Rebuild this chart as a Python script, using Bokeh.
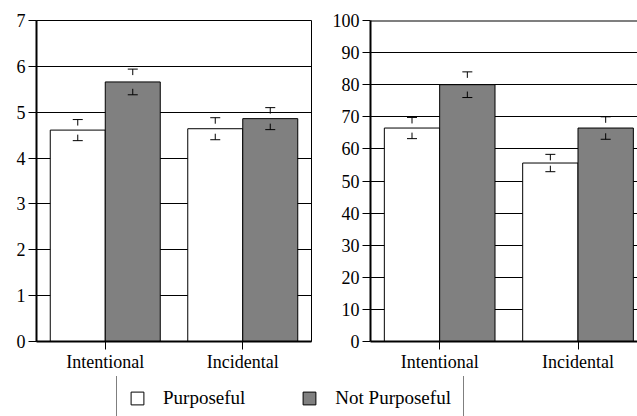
import numpy as np
from bokeh.plotting import figure
from bokeh.layouts import row, column
from bokeh.models import Range1d, FixedTicker, ColumnDataSource, Legend, LegendItem, Span
from bokeh.embed import file_html
from bokeh.resources import INLINE

# ---------------- data ----------------
categories = ["Intentional", "Incidental"]
series = ["Purposeful", "Not Purposeful"]

left_purposeful = [4.61, 4.64]
left_not_purposeful = [5.66, 4.86]
left_purposeful_err = [0.23, 0.24]
left_not_purposeful_err = [0.28, 0.24]
left_ticks = [0, 1, 2, 3, 4, 5, 6, 7]

right_purposeful = [66.5, 55.6]
right_not_purposeful = [80.0, 66.5]
right_purposeful_err = [3.3, 2.7]
right_not_purposeful_err = [4.0, 3.5]
right_ticks = [0, 10, 20, 30, 40, 50, 60, 70, 80, 90, 100]

fill_colors = ["#ffffff", "#808080"]
FONT = "Liberation Serif"


def make_panel(vals, errs, yticks, x_end, frame_w, frame_h,
               b_left, b_right, b_top, b_bottom, outline, top_span):
    p = figure(width=b_left + frame_w + b_right, height=b_top + frame_h + b_bottom,
               x_range=Range1d(0, x_end), y_range=Range1d(yticks[0], yticks[-1]),
               output_backend="svg", toolbar_location=None,
               min_border_left=b_left, min_border_right=b_right,
               min_border_top=b_top, min_border_bottom=b_bottom)
    xc = np.arange(len(categories)) + 0.5
    offsets = [-0.2, 0.2]
    for k in range(len(series)):
        xs = xc + offsets[k]
        v = np.array(vals[k])
        e = np.array(errs[k])
        src = ColumnDataSource(dict(x=xs, top=v, hi=v + e, lo=v - e))
        p.vbar(x="x", top="top", bottom=0, width=0.4, source=src,
               fill_color=fill_colors[k], line_color="black", line_width=1)
        p.ray(x="x", y="hi", length=6, length_units="screen", angle=-np.pi / 2,
              source=src, line_color="black", line_width=1)
        p.ray(x="x", y="lo", length=6, length_units="screen", angle=np.pi / 2,
              source=src, line_color="black", line_width=1)
        p.scatter(x="x", y="hi", marker="dash", size=10, source=src,
                  line_color="black", line_width=1)
        p.scatter(x="x", y="lo", marker="dash", size=10, source=src,
                  line_color="black", line_width=1)

    p.xaxis.ticker = FixedTicker(ticks=list(xc))
    p.xaxis.major_label_overrides = {float(x): c for x, c in zip(xc, categories)}
    p.yaxis.ticker = FixedTicker(ticks=yticks)
    p.axis.major_tick_out = 8
    p.axis.major_tick_in = 0
    p.axis.minor_tick_line_color = None
    p.axis.major_tick_line_color = "black"
    p.axis.axis_line_color = "black"
    p.axis.axis_line_width = 2
    p.axis.major_label_text_font = FONT
    p.axis.major_label_text_font_size = "18px"
    p.axis.major_label_text_color = "black"
    p.xaxis.major_label_standoff = 2
    p.yaxis.major_label_standoff = 3
    p.xgrid.visible = False
    p.ygrid.grid_line_color = "black"
    p.ygrid.grid_line_width = 1
    p.background_fill_color = "white"
    p.border_fill_color = "white"
    if outline:
        p.outline_line_color = "black"
        p.outline_line_width = 1
    else:
        p.outline_line_color = None
    if top_span:
        p.add_layout(Span(location=yticks[-1], dimension="width",
                          line_color="black", line_width=2))
    return p


p1 = make_panel([left_purposeful, left_not_purposeful],
                [left_purposeful_err, left_not_purposeful_err],
                left_ticks, 2.0, 275, 322, 36, 18, 20, 34, True, False)
p2 = make_panel([right_purposeful, right_not_purposeful],
                [right_purposeful_err, right_not_purposeful_err],
                right_ticks, 1.93, 268, 324, 40, 0, 17, 35, False, True)

# ---------------- legend ----------------
pl = figure(width=637, height=40, x_axis_type=None, y_axis_type=None,
            output_backend="svg", toolbar_location=None,
            min_border=0, x_range=Range1d(0, 1), y_range=Range1d(0, 1))
pl.outline_line_color = None
pl.xgrid.visible = False
pl.ygrid.visible = False
pl.background_fill_color = "white"
pl.border_fill_color = "white"
items = []
for k, name in enumerate(series):
    # a single off-screen sample so the legend can draw the swatch
    r = pl.vbar(x=[5], top=[5], bottom=[4], width=0.4, fill_color=fill_colors[k],
                line_color="black", line_width=1)
    items.append(LegendItem(label=name, renderers=[r]))
legend = Legend(items=items, orientation="horizontal", location=(116, -6),
                glyph_width=16, glyph_height=16, label_standoff=18, spacing=56,
                padding=12, margin=0, border_line_color="black", border_line_width=1,
                label_text_font=FONT, label_text_font_size="19px",
                label_text_color="black", background_fill_alpha=1)
pl.add_layout(legend)

layout = column(row(p1, p2), pl)
open("out.html", "w").write(file_html(layout, INLINE))
